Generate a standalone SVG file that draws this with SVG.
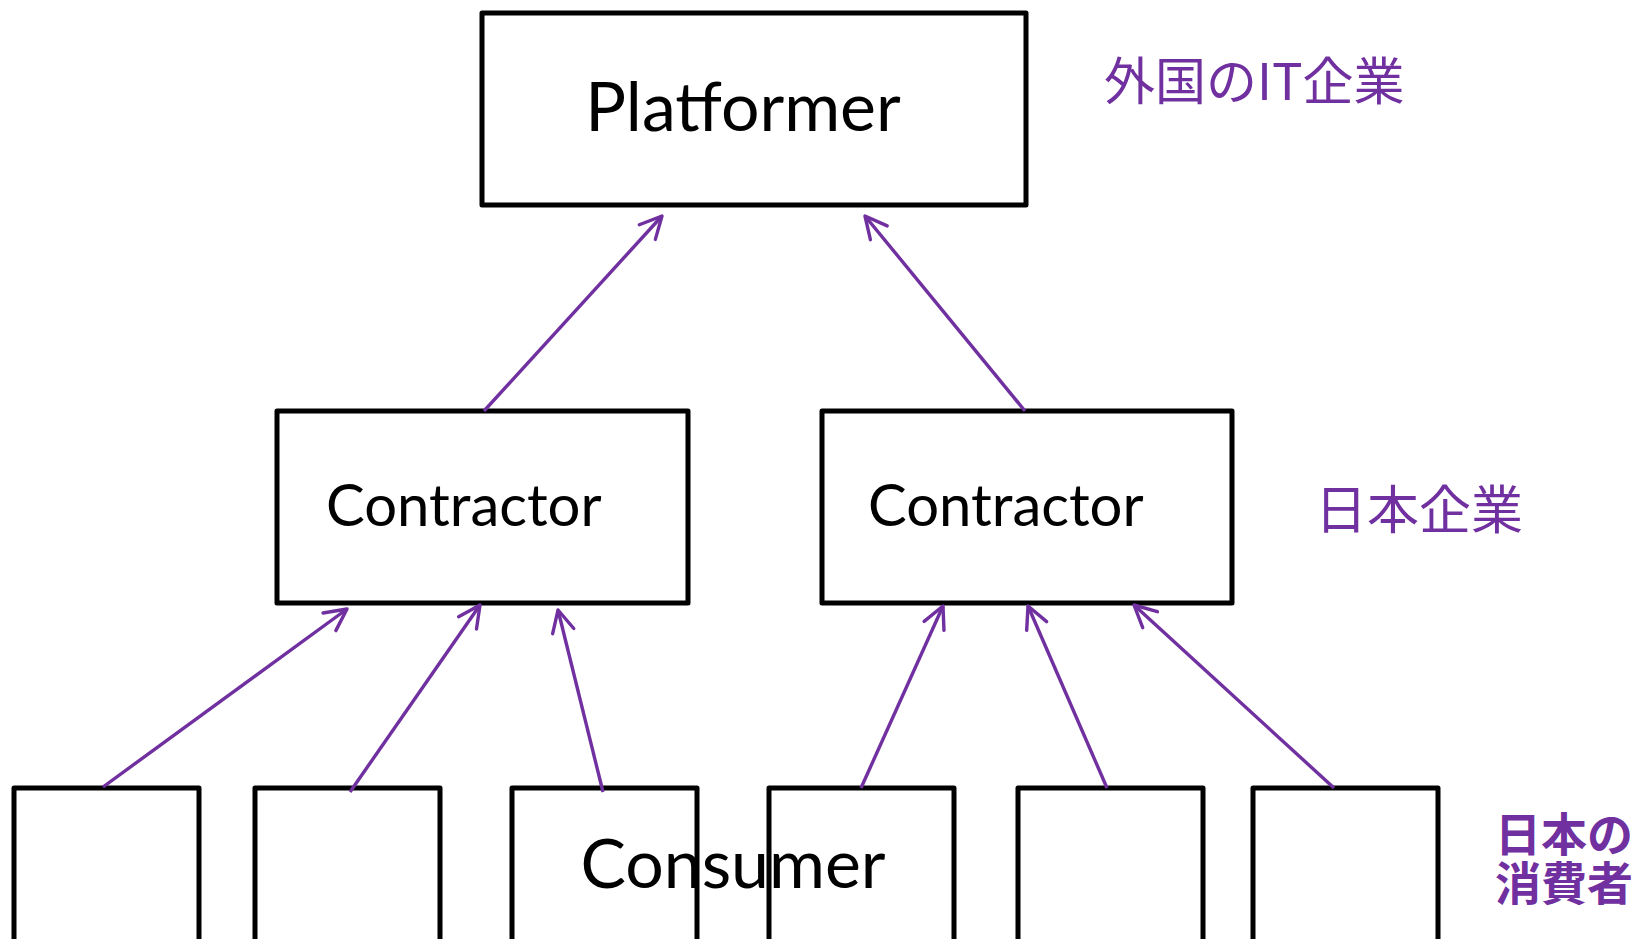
<svg xmlns="http://www.w3.org/2000/svg" width="1639" height="939" viewBox="0 0 1639 939">
  <style>
    .box { fill: #ffffff; stroke: #000000; stroke-width: 5; stroke-linejoin: round; }
    .name { font-family: "Lato", "Liberation Sans", sans-serif; fill: #000000; }
    .tag { font-family: "Noto Sans CJK JP", "Noto Sans", sans-serif; fill: #7030A0; }
    .link { stroke: #7030A0; stroke-width: 3.4; fill: none; marker-end: url(#open-arrow); }
  </style>
  <defs>
    <marker id="open-arrow" viewBox="-9 -6 10 12" refX="0" refY="0" markerWidth="10" markerHeight="12" markerUnits="strokeWidth" orient="auto">
      <path d="M -6.4 -3.2 L 0 0 L -6.4 3.2" fill="none" stroke="#7030A0" stroke-width="1" stroke-linecap="round" stroke-linejoin="round"/>
    </marker>
  </defs>
  <rect width="1639" height="939" fill="#ffffff"/>

  <!-- top tier -->
  <g id="platformer">
    <rect class="box" x="482" y="13" width="544" height="192"/>
    <text class="name" x="743" y="131" font-size="68" text-anchor="middle">Platformer</text>
  </g>

  <!-- middle tier -->
  <g id="contractor-left">
    <rect class="box" x="277" y="411" width="411" height="192"/>
    <text class="name" x="326" y="526" font-size="58">Contractor</text>
  </g>
  <g id="contractor-right">
    <rect class="box" x="822" y="411" width="410" height="192"/>
    <text class="name" x="868" y="526" font-size="58">Contractor</text>
  </g>

  <!-- bottom tier -->
  <g id="consumer-1"><rect class="box" x="14" y="788" width="185" height="170"/></g>
  <g id="consumer-2"><rect class="box" x="255" y="788" width="185" height="170"/></g>
  <g id="consumer-3"><rect class="box" x="512" y="788" width="185" height="170"/></g>
  <g id="consumer-4"><rect class="box" x="769" y="788" width="185" height="170"/></g>
  <g id="consumer-5"><rect class="box" x="1018" y="788" width="185" height="170"/></g>
  <g id="consumer-6"><rect class="box" x="1253" y="788" width="185" height="170"/></g>
  <g id="consumer-label">
    <text class="name" x="733" y="888" font-size="68" text-anchor="middle">Consumer</text>
  </g>

  <!-- tier captions -->
  <g id="caption-foreign">
    <text class="tag" x="1104" y="100" font-size="51">外国のIT企業</text>
  </g>
  <g id="caption-japan-firm">
    <text class="tag" x="1315" y="529" font-size="52">日本企業</text>
  </g>
  <g id="caption-japan-consumer">
    <text class="tag" x="1495" y="851" font-size="46" font-weight="bold">日本の</text>
    <text class="tag" x="1495" y="900" font-size="46" font-weight="bold">消費者</text>
  </g>

  <!-- arrows -->
  <g id="connectors">
    <line class="link" x1="484" y1="411" x2="662" y2="216"/>
    <line class="link" x1="1025" y1="411" x2="865" y2="216"/>
    <line class="link" x1="103" y1="787" x2="347" y2="609"/>
    <line class="link" x1="350" y1="792" x2="480" y2="605"/>
    <line class="link" x1="603" y1="792" x2="558" y2="610"/>
    <line class="link" x1="861" y1="788" x2="943" y2="606"/>
    <line class="link" x1="1107" y1="788" x2="1028" y2="606"/>
    <line class="link" x1="1334" y1="788" x2="1134" y2="605"/>
  </g>
</svg>
